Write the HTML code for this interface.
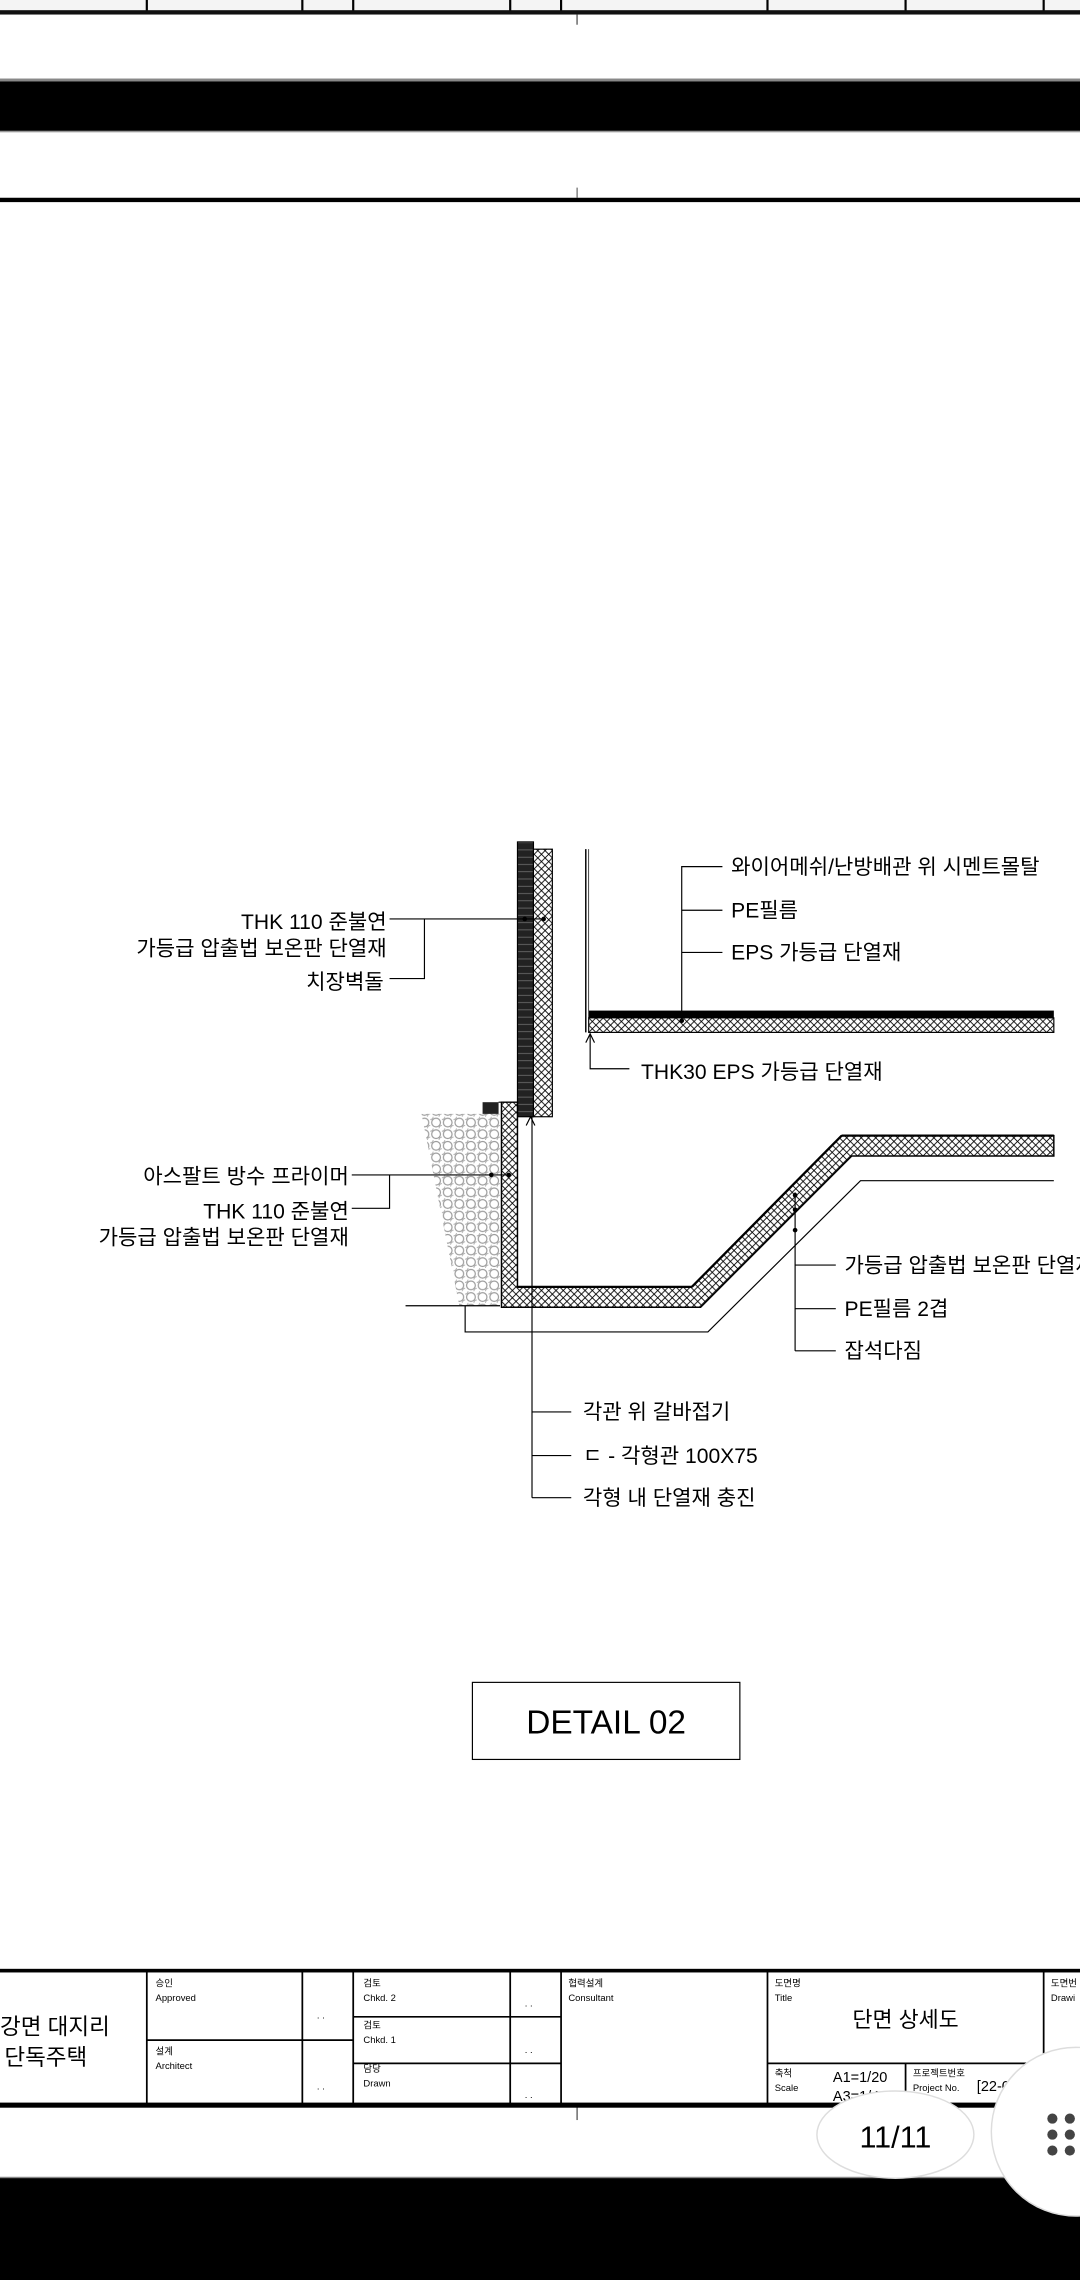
<!DOCTYPE html>
<html><head><meta charset="utf-8">
<style>
html,body{margin:0;padding:0;background:#fff;}
svg{display:block;}
text{font-family:"Liberation Sans","Noto Sans CJK KR",sans-serif;fill:#000;}
</style></head>
<body>
<svg width="1080" height="2280" viewBox="0 0 743 1568" preserveAspectRatio="none" xmlns="http://www.w3.org/2000/svg">
<defs>
<pattern id="xh" width="5" height="5" patternUnits="userSpaceOnUse">
<rect width="5" height="5" fill="#fff"/>
<path d="M0 0L5 5M5 0L0 5" stroke="#000" stroke-width="0.6"/>
</pattern>
<pattern id="brick" width="11" height="5" patternUnits="userSpaceOnUse">
<rect width="11" height="5" fill="#222"/>
<path d="M0 4.5H11" stroke="#777" stroke-width="0.5"/>
</pattern>
<pattern id="grav" width="8" height="8" patternUnits="userSpaceOnUse">
<rect width="8" height="8" fill="#fff"/>
<circle cx="4" cy="4" r="3" fill="none" stroke="#999" stroke-width="0.8"/>
<circle cx="0" cy="0" r="2" fill="none" stroke="#aaa" stroke-width="0.6"/>
<circle cx="8" cy="8" r="2" fill="none" stroke="#aaa" stroke-width="0.6"/>
</pattern>
</defs>
<rect width="743" height="1568" fill="#fff"/>

<!-- top strip -->
<rect x="0" y="0" width="743" height="8" fill="#f4f4f4"/>
<g stroke="#000" stroke-width="1.5">
<line x1="101" y1="0" x2="101" y2="8"/><line x1="208" y1="0" x2="208" y2="8"/><line x1="243" y1="0" x2="243" y2="8"/><line x1="351" y1="0" x2="351" y2="8"/><line x1="386" y1="0" x2="386" y2="8"/><line x1="528" y1="0" x2="528" y2="8"/><line x1="623" y1="0" x2="623" y2="8"/><line x1="718" y1="0" x2="718" y2="8"/>
</g>
<rect x="0" y="7" width="743" height="3" fill="#111"/>
<line x1="397" y1="10" x2="397" y2="17" stroke="#666" stroke-width="1"/>
<rect x="0" y="54" width="743" height="2" fill="#888"/>
<rect x="0" y="56" width="743" height="34" fill="#000"/>
<rect x="0" y="90" width="743" height="1" fill="#999"/>
<rect x="0" y="136" width="743" height="3" fill="#000"/>
<line x1="397" y1="129" x2="397" y2="136" stroke="#000" stroke-width="0.5"/>

<!-- wall -->
<rect x="356" y="579" width="11" height="189" fill="url(#brick)" stroke="#000" stroke-width="0.8"/>
<rect x="367" y="584" width="13" height="184" fill="url(#xh)" stroke="#000" stroke-width="0.8"/>
<rect x="332" y="758" width="11" height="9" fill="#222"/>
<path d="M343 758H356V768" fill="none" stroke="#000" stroke-width="0.8"/>
<!-- gravel -->
<polygon points="290,766 344,766 344,898 316,898" fill="url(#grav)"/>
<line x1="279" y1="898" x2="344" y2="898" stroke="#000" stroke-width="0.8"/>
<!-- lower insulation -->
<path d="M345 758V899H482L586 795H725V781H579L476 885H356V758Z" fill="url(#xh)" stroke="#000" stroke-width="1"/>
<line x1="356" y1="885" x2="476" y2="885" stroke="#000" stroke-width="1.6"/>
<line x1="476" y1="885" x2="579" y2="781" stroke="#000" stroke-width="1.6"/>
<line x1="579" y1="781" x2="725" y2="781" stroke="#000" stroke-width="1.6"/>
<path d="M320 898V916H487L592 812H725" fill="none" stroke="#000" stroke-width="0.8"/>

<!-- inner wall + floor -->
<line x1="403" y1="584" x2="403" y2="710" stroke="#000" stroke-width="1"/>
<line x1="405" y1="584" x2="405" y2="700" stroke="#000" stroke-width="0.5"/>
<rect x="405" y="695" width="320" height="5" fill="#000"/>
<rect x="405" y="700" width="320" height="10" fill="url(#xh)" stroke="#000" stroke-width="0.8"/>
<path d="M403 717L406 711L409 717" fill="none" stroke="#000" stroke-width="0.8"/>
<path d="M406 712V735H433" fill="none" stroke="#000" stroke-width="0.8"/>
<text x="441" y="742" font-size="14.5">THK30 EPS 가등급 단열재</text>

<!-- right top leaders -->
<g stroke="#000" stroke-width="0.8" fill="none">
<path d="M469 702V596H497M469 626H497M469 655H497"/>
<path d="M268 632H374M292 632V673H268"/>
<path d="M242 808H350M268 808V831H242"/>
<path d="M366 768V1030M366 971H393M366 1001H393M366 1030H393"/>
<path d="M547 820V929M547 870H575M547 900H575M547 929H575"/>
<path d="M362 774L365 768L368 774"/>
</g>
<g fill="#000">
<circle cx="469" cy="702" r="1.6"/><circle cx="361" cy="632" r="1.6"/><circle cx="374" cy="632" r="1.6"/>
<circle cx="338" cy="808" r="1.6"/><circle cx="350" cy="808" r="1.6"/>
<circle cx="547" cy="822" r="1.6"/><circle cx="547" cy="832" r="1.6"/><circle cx="547" cy="846" r="1.6"/>
</g>
<g font-size="14.5">
<text x="503" y="601">와이어메쉬/난방배관 위 시멘트몰탈</text>
<text x="503" y="631">PE필름</text>
<text x="503" y="660">EPS 가등급 단열재</text>
<text x="266" y="639" text-anchor="end">THK 110 준불연</text>
<text x="266" y="657" text-anchor="end">가등급 압출법 보온판 단열재</text>
<text x="264" y="680" text-anchor="end">치장벽돌</text>
<text x="240" y="814" text-anchor="end">아스팔트 방수 프라이머</text>
<text x="240" y="838" text-anchor="end">THK 110 준불연</text>
<text x="240" y="856" text-anchor="end">가등급 압출법 보온판 단열재</text>
<text x="401" y="976">각관 위 갈바접기</text>
<text x="401" y="1006">ㄷ - 각형관 100X75</text>
<text x="401" y="1035">각형 내 단열재 충진</text>
<text x="581" y="875">가등급 압출법 보온판 단열재</text>
<text x="581" y="905">PE필름 2겹</text>
<text x="581" y="934">잡석다짐</text>
</g>

<rect x="325" y="1157" width="184" height="53" fill="none" stroke="#000" stroke-width="0.8"/>
<text x="417" y="1192" font-size="23" text-anchor="middle">DETAIL 02</text>

<!-- title block -->
<rect x="0" y="1354" width="743" height="2.5" fill="#000"/>
<rect x="0" y="1446" width="743" height="3.5" fill="#000"/>
<g stroke="#000" stroke-width="1.2">
<line x1="101" y1="1355" x2="101" y2="1448"/><line x1="208" y1="1355" x2="208" y2="1448"/>
<line x1="243" y1="1355" x2="243" y2="1448"/><line x1="351" y1="1355" x2="351" y2="1448"/>
<line x1="386" y1="1355" x2="386" y2="1448"/><line x1="528" y1="1355" x2="528" y2="1448"/>
<line x1="718" y1="1355" x2="718" y2="1448"/><line x1="623" y1="1419" x2="623" y2="1448"/>
<line x1="101" y1="1403" x2="243" y2="1403"/>
<line x1="243" y1="1387" x2="386" y2="1387"/><line x1="243" y1="1419" x2="386" y2="1419"/>
<line x1="528" y1="1419" x2="743" y2="1419"/>
</g>
<text x="0" y="1399" font-size="15.5">강면 대지리</text>
<text x="3" y="1420" font-size="15.5">단독주택</text>
<g font-size="6.5" fill="#333">
<text x="107" y="1366">승인</text><text x="107" y="1376">Approved</text>
<text x="107" y="1413">설계</text><text x="107" y="1423">Architect</text>
<text x="250" y="1366">검토</text><text x="250" y="1376">Chkd. 2</text>
<text x="250" y="1395">검토</text><text x="250" y="1405">Chkd. 1</text>
<text x="250" y="1425">담당</text><text x="250" y="1435">Drawn</text>
<text x="391" y="1366">협력설계</text><text x="391" y="1376">Consultant</text>
<text x="533" y="1366">도면명</text><text x="533" y="1376">Title</text>
<text x="533" y="1428">축척</text><text x="533" y="1438">Scale</text>
<text x="628" y="1428">프로젝트번호</text><text x="628" y="1438">Project No.</text>
<text x="723" y="1366">도면번</text><text x="723" y="1376">Drawi</text>
<text x="218" y="1388">. .</text><text x="218" y="1437">. .</text>
<text x="361" y="1380">. .</text><text x="361" y="1412">. .</text><text x="361" y="1443">. .</text>
</g>
<text x="623" y="1394" font-size="15" text-anchor="middle">단면 상세도</text>
<text x="573" y="1432" font-size="10">A1=1/20</text>
<text x="573" y="1445" font-size="10">A3=1/40</text>
<text x="672" y="1438" font-size="10">[22-0</text>
<line x1="397" y1="1449" x2="397" y2="1458" stroke="#000" stroke-width="0.6"/>

<!-- bottom bar -->
<rect x="0" y="1497" width="743" height="1.5" fill="#888"/>
<rect x="0" y="1498" width="743" height="70" fill="#000"/>
<ellipse cx="616" cy="1468" rx="54" ry="30" fill="#fff" stroke="#ddd" stroke-width="1"/>
<text x="616" y="1477" font-size="21" text-anchor="middle" fill="#333">11/11</text>
<circle cx="740" cy="1466" r="58" fill="#fff" stroke="#ddd" stroke-width="1"/>
<g fill="#444">
<circle cx="724" cy="1457" r="3.5"/><circle cx="736" cy="1457" r="3.5"/>
<circle cx="724" cy="1468" r="3.5"/><circle cx="736" cy="1468" r="3.5"/>
<circle cx="724" cy="1479" r="3.5"/><circle cx="736" cy="1479" r="3.5"/>
</g>
</svg>
</body></html>
